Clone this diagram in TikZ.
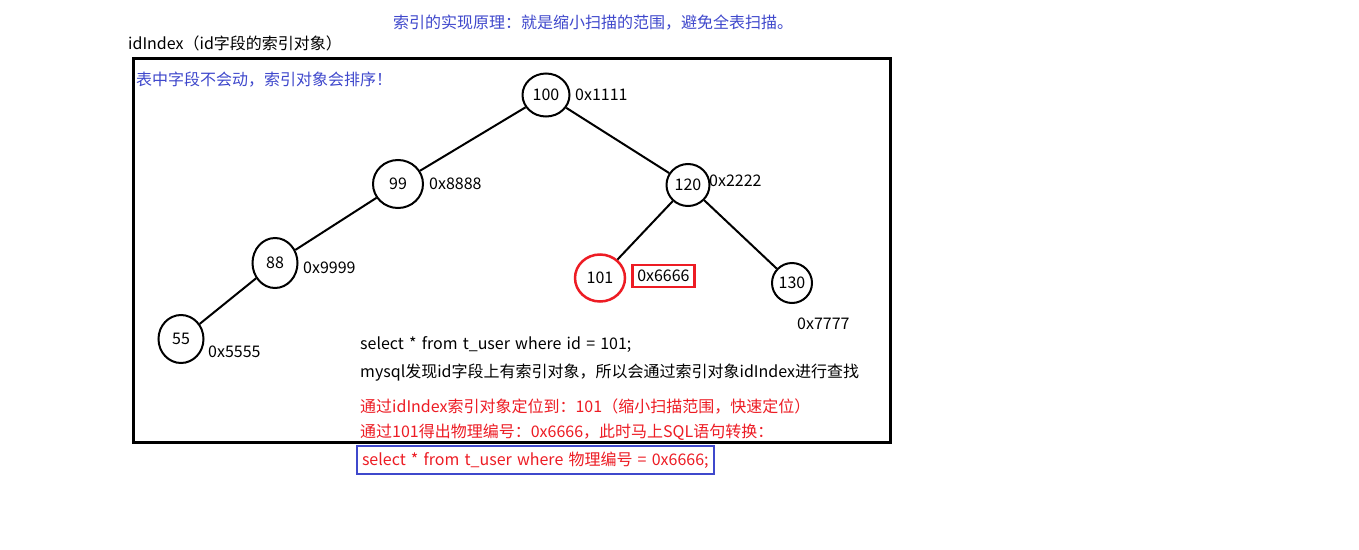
\documentclass[tikz,border=0pt]{standalone}
\usepackage{fontspec}
\setmainfont{Noto Sans CJK SC}
\usetikzlibrary{shapes.geometric}
\definecolor{pblue}{RGB}{63,72,204}
\definecolor{pred}{RGB}{237,28,36}
\newcommand\myspacing{\spaceskip=5.2pt plus 1pt minus 0.5pt\relax}
\tikzset{
  txt/.style={anchor=west,inner sep=0pt,font=\fontsize{16}{18}\selectfont\myspacing},
  tnode/.style={ellipse,draw,line width=2pt,inner sep=0pt,font=\fontsize{16}{18}\selectfont},
  edge/.style={line width=2pt},
}
\begin{document}
\begin{tikzpicture}[x=1pt,y=-1pt]
\useasboundingbox (0,0) rectangle (1359,549);
\fill[white] (0,0) rectangle (1359,549);
% title texts
\node[txt,text=pblue] (title) at (393,23) {索引的实现原理：就是缩小扫描的范围，避免全表扫描。};
\node[txt] (idx) at (128,43) {idIndex（id字段的索引对象）};
\draw[line width=3pt] (133,58) rectangle (890,442);
\node[txt,text=pblue] (note) at (136,80) {表中字段不会动，索引对象会排序！};
% tree nodes
\node[tnode,minimum width=47pt,minimum height=43pt] (n100) at (546,95) {100};
\node[tnode,minimum width=50pt,minimum height=48pt] (n99) at (398,184) {99};
\node[tnode,minimum width=43pt,minimum height=42pt] (n120) at (688,185) {120};
\node[tnode,minimum width=45pt,minimum height=50pt] (n88) at (275,263) {88};
\node[tnode,minimum width=45pt,minimum height=48pt] (n55) at (181,339) {55};
\node[tnode,draw=pred,line width=2.5pt,minimum width=50pt,minimum height=47pt] (n101) at (600,278) {101};
\node[tnode,minimum width=40pt,minimum height=40pt] (n130) at (792,283) {130};
% edges
\draw[edge] (n100) -- (n99);
\draw[edge] (n100) -- (n120);
\draw[edge] (n99) -- (n88);
\draw[edge] (n88) -- (n55);
\draw[edge] (n120) -- (n101);
\draw[edge] (n120) -- (n130);
% address labels
\node[txt] (a100) at (575,95) {0x1111};
\node[txt] (a99) at (429,184) {0x8888};
\node[txt] (a120) at (709,181) {0x2222};
\node[txt] (a88) at (303,268) {0x9999};
\node[txt] (a55) at (208,352) {0x5555};
\node[txt,draw=pred,line width=2.5pt,inner xsep=5pt,inner ysep=5pt] (a101) at (631,276) {0x6666};
\node[txt] (a130) at (797,324) {0x7777};
% explanation
\node[txt] (l1) at (360,345) {select * from t\_user where id = 101;};
\node[txt] (l2) at (360,373) {mysql发现id字段上有索引对象，所以会通过索引对象idIndex进行查找};
\node[txt,text=pred] (l3) at (360,407) {通过idIndex索引对象定位到：101（缩小扫描范围，快速定位）};
\node[txt,text=pred] (l4) at (360,432) {通过101得出物理编号：0x6666，此时马上SQL语句转换：};
\node[txt,text=pred,draw=pblue,line width=2pt,inner xsep=5pt,inner ysep=6pt] (l5) at (356,460) {select * from t\_user where 物理编号 = 0x6666;};
\end{tikzpicture}
\end{document}
